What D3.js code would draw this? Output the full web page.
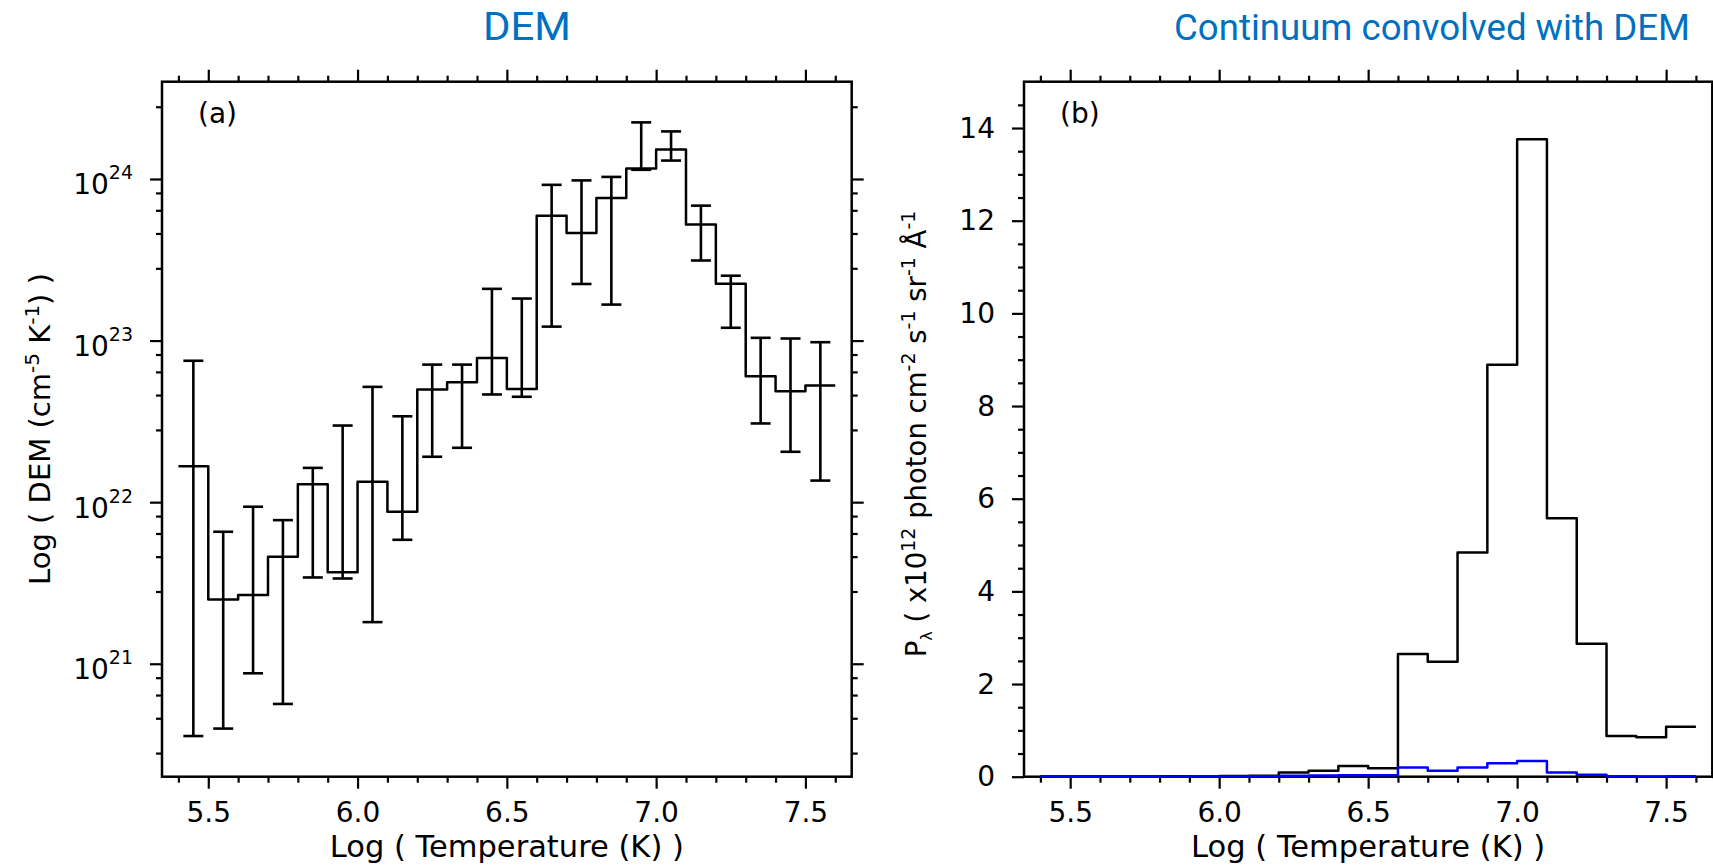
<!DOCTYPE html>
<html>
<head>
<meta charset="utf-8">
<script src="https://cdn.jsdelivr.net/npm/d3@7"></script>
<style>
  body { margin: 0; background: #fff; }
  svg { display: block; }
  text { font-family: "DejaVu Sans", sans-serif; fill: #000; }
  .title { font-family: Roboto, "Noto Sans", sans-serif; fill: #0070c0; }
</style>
</head>
<body>
<svg id="chart" width="1713" height="865"></svg>
<script>
// Bin centres of log T (bins are 0.1 wide)
const logT = [5.45, 5.55, 5.65, 5.75, 5.85, 5.95, 6.05, 6.15, 6.25, 6.35, 6.45,
              6.55, 6.65, 6.75, 6.85, 6.95, 7.05, 7.15, 7.25, 7.35, 7.45, 7.55];
const binWidth = 0.1;

// (a) DEM and its error bars
const dem   = [1.67e22, 2.5e21, 2.66e21, 4.6e21, 1.29e22, 3.69e21, 1.34e22, 8.73e21, 4.98e22, 5.52e22, 7.8e22,
               5.02e22, 5.93e23, 4.63e23, 7.63e23, 1.16e24, 1.52e24, 5.22e23, 2.25e23, 6.01e22, 4.86e22, 5.27e22];
const demHi = [7.5e22, 6.56e21, 9.37e21, 7.74e21, 1.63e22, 2.98e22, 5.17e22, 3.4e22, 7.1e22, 7.1e22, 2.09e23,
               1.82e23, 9.2e23, 9.8e23, 1.03e24, 2.24e24, 1.97e24, 6.84e23, 2.52e23, 1.04e23, 1.03e23, 9.77e22];
const demLo = [3.57e20, 3.97e20, 8.73e20, 5.64e20, 3.42e21, 3.37e21, 1.81e21, 5.85e21, 1.91e22, 2.17e22, 4.64e22,
               4.49e22, 1.22e23, 2.24e23, 1.67e23, 1.14e24, 1.3e24, 3.13e23, 1.2e23, 3.07e22, 2.05e22, 1.36e22];

// (b) continuum convolved with DEM (x1e12)
const contBlack = [0.004, 0.002, 0.002, 0.003, 0.008, 0.006, 0.015, 0.02, 0.09, 0.13, 0.23,
                   0.18, 2.65, 2.48, 4.84, 8.89, 13.76, 5.58, 2.87, 0.88, 0.85, 1.08];
const contBlue  = [0.002, 0.001, 0.001, 0.001, 0.004, 0.003, 0.006, 0.008, 0.02, 0.025, 0.03,
                   0.03, 0.2, 0.13, 0.2, 0.29, 0.34, 0.09, 0.04, 0.01, 0.006, 0.008];

// tick values
const xMajor = [5.5, 6.0, 6.5, 7.0, 7.5];
const xMinor = [5.4, 5.6, 5.7, 5.8, 5.9, 6.1, 6.2, 6.3, 6.4, 6.6, 6.7, 6.8, 6.9, 7.1, 7.2, 7.3, 7.4, 7.6];
const yMajorL = [1e21, 1e22, 1e23, 1e24];
const yMinorL = [2.8e20, 4.6e20, 6.4e20, 8.2e20, 2.8e21, 4.6e21, 6.4e21, 8.2e21, 2.8e22, 4.6e22, 6.4e22, 8.2e22,
                 2.8e23, 4.6e23, 6.4e23, 8.2e23, 2.8e24];
const yMajorR = [0, 2, 4, 6, 8, 10, 12, 14];
const yMinorR = [0.5, 1, 1.5, 2.5, 3, 3.5, 4.5, 5, 5.5, 6.5, 7, 7.5, 8.5, 9, 9.5, 10.5, 11, 11.5,
                 12.5, 13, 13.5, 14.5];

const svg = d3.select('#chart');
const plotTop = 81.7, plotBottom = 776.7;

const xL = d3.scaleLinear().domain([5.345, 7.655]).range([162, 851.7]);
const xR = d3.scaleLinear().domain([5.345, 7.655]).range([1024, 1712.3]);
const yL = d3.scaleLog().domain([2e20, 4e24]).range([plotBottom, plotTop]);
const yR = d3.scaleLinear().domain([0, 15]).range([plotBottom, plotTop]);

// draw major + minor ticks for one side of the frame
function addTicks(axisFn, scale, major, minor, pos, showLabels, fmt) {
  const g = svg.append('g').attr('transform', pos);
  g.append('g').call(axisFn(scale).tickValues(minor).tickSize(6).tickFormat(''));
  g.append('g').call(axisFn(scale).tickValues(major).tickSize(12)
    .tickPadding(axisFn === d3.axisBottom ? 13 : 17)
    .tickFormat(showLabels ? fmt : ''));
  g.selectAll('.domain').remove();
  g.selectAll('line').attr('stroke', '#000').attr('stroke-width', 2.2);
  g.selectAll('text').attr('font-size', 28).attr('font-family', '"DejaVu Sans", sans-serif');
  return g;
}

function drawFrame(x, y) {
  const [x0, x1] = x.range();
  addTicks(d3.axisBottom, x, xMajor, xMinor, `translate(0,${plotBottom})`, true, d3.format('.1f'));
  addTicks(d3.axisTop, x, xMajor, xMinor, `translate(0,${plotTop})`, false);
  svg.append('rect')
    .attr('x', x0).attr('y', plotTop)
    .attr('width', x1 - x0).attr('height', plotBottom - plotTop)
    .attr('fill', 'none').attr('stroke', '#000').attr('stroke-width', 2.5);
  svg.append('text')
    .attr('x', (x0 + x1) / 2).attr('y', 856.5)
    .attr('text-anchor', 'middle').attr('font-size', 30.5)
    .text('Log ( Temperature (K) )');
}

function stepLine(x, y, vals) {
  const pts = logT.flatMap((t, i) => [[t - binWidth / 2, vals[i]], [t + binWidth / 2, vals[i]]]);
  return d3.line().x(d => x(d[0])).y(d => y(d[1]))(pts);
}

// ---------- panel (a) ----------
drawFrame(xL, yL);
addTicks(d3.axisLeft, yL, yMajorL, yMinorL, `translate(162,0)`, false);
addTicks(d3.axisRight, yL, yMajorL, yMinorL, `translate(851.7,0)`, false);

yMajorL.forEach(v => {
  const t = svg.append('text')
    .attr('x', 162 - 29).attr('y', yL(v) + 15.5)
    .attr('text-anchor', 'end').attr('font-size', 28);
  t.append('tspan').text('10');
  t.append('tspan').attr('dy', -15).attr('font-size', 19).text(Math.round(Math.log10(v)));
});

svg.append('path')
  .attr('d', stepLine(xL, yL, dem))
  .attr('fill', 'none').attr('stroke', '#000').attr('stroke-width', 2.5)
  .attr('stroke-linejoin', 'round');

const err = svg.append('g').attr('stroke', '#000').attr('stroke-width', 2.6);
logT.forEach((t, i) => {
  const cx = xL(t);
  err.append('line').attr('x1', cx).attr('x2', cx).attr('y1', yL(demLo[i])).attr('y2', yL(demHi[i]));
  err.append('line').attr('x1', cx - 10).attr('x2', cx + 10).attr('y1', yL(demLo[i])).attr('y2', yL(demLo[i]));
  err.append('line').attr('x1', cx - 10).attr('x2', cx + 10).attr('y1', yL(demHi[i])).attr('y2', yL(demHi[i]));
});

svg.append('text').attr('x', 198).attr('y', 123).attr('font-size', 28).text('(a)');

const labA = svg.append('text')
  .attr('transform', 'rotate(-90)')
  .attr('x', -429).attr('y', 50)
  .attr('text-anchor', 'middle').attr('font-size', 29);
labA.append('tspan').text('Log ( DEM (cm');
labA.append('tspan').attr('dy', -11).attr('font-size', 20).text('-5');
labA.append('tspan').attr('dy', 11).text(' K');
labA.append('tspan').attr('dy', -11).attr('font-size', 20).text('-1');
labA.append('tspan').attr('dy', 11).text(') )');

// ---------- panel (b) ----------
drawFrame(xR, yR);
addTicks(d3.axisLeft, yR, yMajorR, yMinorR, `translate(1024,0)`, true, d3.format('d'));
addTicks(d3.axisRight, yR, yMajorR, yMinorR, `translate(1712.3,0)`, false);

svg.append('path')
  .attr('d', stepLine(xR, yR, contBlack))
  .attr('fill', 'none').attr('stroke', '#000').attr('stroke-width', 2.5)
  .attr('stroke-linejoin', 'round');
svg.append('path')
  .attr('d', stepLine(xR, yR, contBlue))
  .attr('fill', 'none').attr('stroke', '#0000ff').attr('stroke-width', 2.5)
  .attr('stroke-linejoin', 'round');

svg.append('text').attr('x', 1060).attr('y', 123).attr('font-size', 28).text('(b)');

const labB = svg.append('text')
  .attr('transform', 'rotate(-90)')
  .attr('x', -434).attr('y', 926)
  .attr('text-anchor', 'middle').attr('font-size', 27.5);
labB.append('tspan').text('P');
labB.append('tspan').attr('dy', 6).attr('font-size', 16).text('λ');
labB.append('tspan').attr('dy', -6).text(' ( x10');
labB.append('tspan').attr('dy', -11).attr('font-size', 19).text('12');
labB.append('tspan').attr('dy', 11).text(' photon cm');
labB.append('tspan').attr('dy', -11).attr('font-size', 19).text('-2');
labB.append('tspan').attr('dy', 11).text(' s');
labB.append('tspan').attr('dy', -11).attr('font-size', 19).text('-1');
labB.append('tspan').attr('dy', 11).text(' sr');
labB.append('tspan').attr('dy', -11).attr('font-size', 19).text('-1');
labB.append('tspan').attr('dy', 11).text(' Å');
labB.append('tspan').attr('dy', -11).attr('font-size', 19).text('-1');

// ---------- titles ----------
svg.append('text').attr('class', 'title')
  .attr('x', 483).attr('y', 39.5)
  .attr('font-size', 39)
  .attr('textLength', 88).attr('lengthAdjust', 'spacingAndGlyphs')
  .text('DEM');
svg.append('text').attr('class', 'title')
  .attr('x', 1174).attr('y', 39.5)
  .attr('font-size', 37)
  .attr('textLength', 516).attr('lengthAdjust', 'spacingAndGlyphs')
  .text('Continuum convolved with DEM');
</script>
</body>
</html>
